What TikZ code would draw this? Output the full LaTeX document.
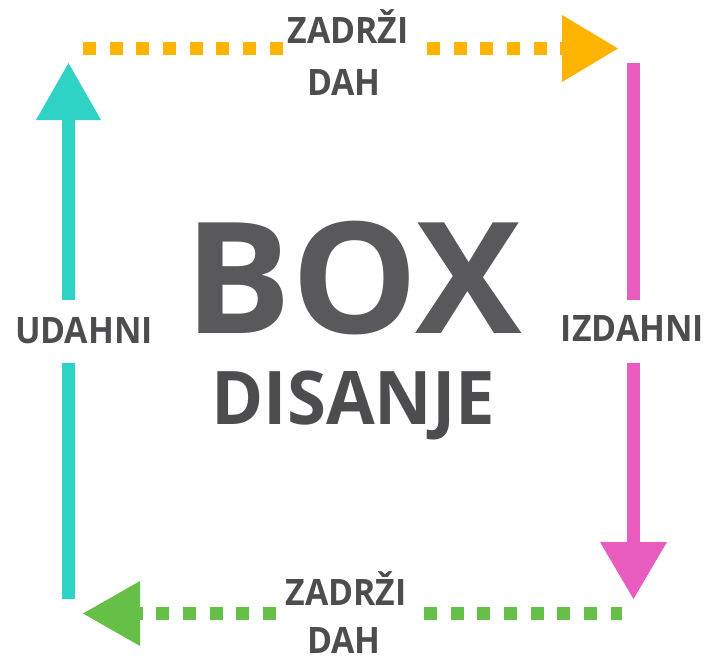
\documentclass[tikz,border=0pt]{standalone}
\usepackage{fontspec}
\setmainfont{Open Sans}
\definecolor{cyanc}{RGB}{46,211,198}
\definecolor{orangec}{RGB}{253,180,0}
\definecolor{magentac}{RGB}{232,92,191}
\definecolor{greenc}{RGB}{102,192,71}
\definecolor{txtc}{RGB}{77,77,79}
\definecolor{boxc}{RGB}{89,89,91}
\newcommand{\narrowtxt}[1]{\scalebox{0.93}[1]{#1}}
\tikzset{
  lbl/.style={inner sep=0pt, anchor=base, text=txtc, font=\fontsize{36.4}{40}\selectfont\bfseries},
  solidline/.style={line width=13pt, line cap=butt},
  dotline/.style={line width=13pt, line cap=butt, dash pattern=on 13pt off 13.67pt},
}
\begin{document}
\begin{tikzpicture}[x=1pt,y=-1pt]
\useasboundingbox (0,0) rectangle (705,659);
% labels
\node[lbl] (topz) at (348,43) {\narrowtxt{ZADRŽI}};
\node[lbl] (topd) at (344,95) {\narrowtxt{DAH}};
\node[lbl] (botz) at (346,605) {\narrowtxt{ZADRŽI}};
\node[lbl] (botd) at (344,653) {\narrowtxt{DAH}};
\node[lbl] (udahni) at (84,343) {\narrowtxt{UDAHNI}};
\node[lbl] (izdahni) at (632.5,341) {\narrowtxt{IZDAHNI}};
\node[inner sep=0pt, anchor=base, text=boxc, font=\fontsize{155}{160}\selectfont\bfseries] (box) at (353.5,333) {\scalebox{1.03}[1]{BOX}};
\node[inner sep=0pt, anchor=base, text=txtc, font=\fontsize{74}{80}\selectfont\bfseries] (disanje) at (353.5,424) {\scalebox{0.955}[1]{DISANJE}};
% coordinates
\coordinate (cy0) at (68.5,599);
\coordinate (cy1) at (68.5,363);
\coordinate (cy2) at (68.5,300);
\coordinate (cy3) at (68.5,120);
\coordinate (cyt) at (68.5,63);
\coordinate (or0) at (83,48.5);
\coordinate (or1) at (283,48.5);
\coordinate (or2) at (427,48.5);
\coordinate (or3) at (562,48.5);
\coordinate (ort) at (618,48.5);
\coordinate (mg0) at (633.5,63);
\coordinate (mg1) at (633.5,300);
\coordinate (mg2) at (633.5,363);
\coordinate (mg3) at (633.5,542);
\coordinate (mgt) at (633.5,599);
\coordinate (gr0) at (622,613.5);
\coordinate (gr1) at (424,613.5);
\coordinate (gr2) at (276,613.5);
\coordinate (gr3) at (140,613.5);
\coordinate (grt) at (83,613.5);
% cyan (inhale)
\draw[solidline, cyanc] (cy0) -- (cy1);
\draw[solidline, cyanc] (cy2) -- (cy3);
\fill[cyanc] (36,120) -- (101,120) -- (cyt) -- cycle;
% orange (hold, top)
\draw[dotline, orangec] (or0) -- (or1);
\draw[dotline, orangec] (or2) -- (or3);
\fill[orangec] (562,15) -- (562,82) -- (ort) -- cycle;
% magenta (exhale)
\draw[solidline, magentac] (mg0) -- (mg1);
\draw[solidline, magentac] (mg2) -- (mg3);
\fill[magentac] (600,542) -- (667,542) -- (mgt) -- cycle;
% green (hold, bottom)
\draw[dotline, greenc] (gr1) -- (gr0);
\draw[dotline, greenc] (gr2) -- (gr3);
\fill[greenc] (140,581) -- (140,646) -- (grt) -- cycle;
\end{tikzpicture}
\end{document}
